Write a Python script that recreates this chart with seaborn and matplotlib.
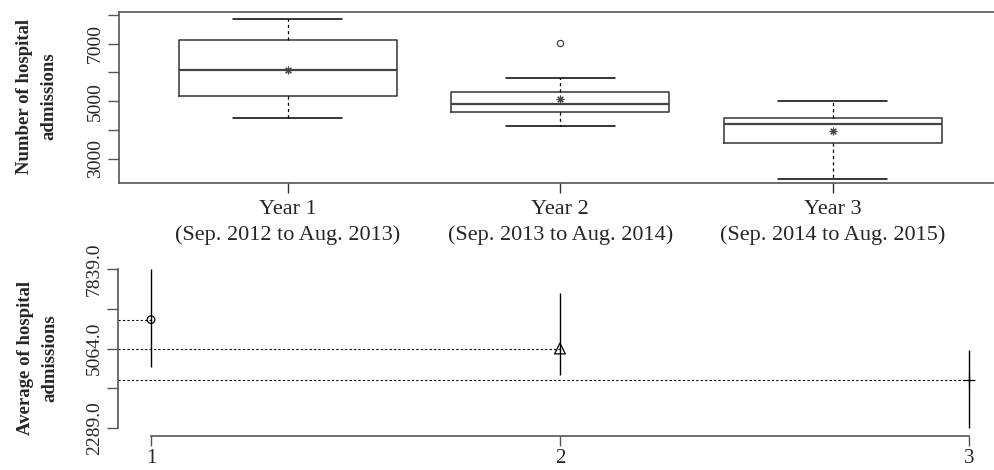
import numpy as np
import pandas as pd
import seaborn as sns
import matplotlib.pyplot as plt

# values
years = ['Year 1\n(Sep. 2012 to Aug. 2013)',
         'Year 2\n(Sep. 2013 to Aug. 2014)',
         'Year 3\n(Sep. 2014 to Aug. 2015)']
q1 = [5177, 4622, 3545]
medians = [6080, 4900, 4205]
q3 = [7122, 5316, 4413]
whisk_lo = [4418, 4146, 2289]
whisk_hi = [7839, 5813, 5014]
outliers = [[], [7020], []]
means = [6075, 5064, 3965]

# lower panel: mean with min-max range
groups = [1, 2, 3]
mins = [4418, 4146, 2289]
maxs = [7839, 7020, 5020]
mean_markers = ['o', '^', '+']

sns.set_style('ticks')
plt.rcParams['font.family'] = ['Liberation Serif', 'DejaVu Serif']

fig = plt.figure(figsize=(9.94, 4.70), dpi=100)
frame_col = '#555555'

#top panel - boxplots
ax1 = fig.add_axes([0.1197, 0.6100, 0.888, 0.3638])
stats = []
for i in range(3):
    stats.append({'med': medians[i], 'q1': q1[i], 'q3': q3[i],
                  'whislo': whisk_lo[i], 'whishi': whisk_hi[i],
                  'mean': means[i], 'fliers': outliers[i]})
ax1.bxp(stats, positions=[1, 2, 3], widths=0.8, showmeans=True,
        boxprops=dict(color='#444444', linewidth=1.2),
        medianprops=dict(color='#444444', linewidth=1.6),
        whiskerprops=dict(color='black', linestyle=(0, (2.5, 2.5)), linewidth=0.9),
        capprops=dict(color='black', linewidth=1.1),
        capwidths=0.4,
        meanprops=dict(marker=(8, 2, 0), markersize=5.5, markeredgecolor='#444444',
                       markeredgewidth=0.8),
        flierprops=dict(marker='o', markersize=4.5, markerfacecolor='none',
                        markeredgecolor='#333333', markeredgewidth=0.8))
ax1.set_xlim(0.38, 3.62)
ax1.set_ylim(2146, 8083)
ax1.set_yticks([3000, 4000, 5000, 6000, 7000, 8000])
ax1.set_yticklabels(['3000', '', '5000', '', '7000', ''], rotation=90, va='center')
ax1.set_xticks([1, 2, 3])
ax1.set_xticklabels(years, fontsize=16, linespacing=1.45)
ax1.tick_params(axis='y', length=8, width=1, color=frame_col, labelsize=14, pad=3)
ax1.tick_params(axis='x', length=7, width=1, color='#333333', pad=5)
for s in ax1.spines.values():
    s.set_color(frame_col)
    s.set_linewidth(1.2)
ax1.spines['right'].set_visible(False)

#bottom panel - means with ranges
ax2 = fig.add_axes([0.1190, 0.0766, 0.8887, 0.3638])
ax2.vlines(groups, mins, maxs, color='black', linewidth=1)
for g, m in zip(groups, means):
    ax2.hlines(m, 0.92, g, color='black', linestyle=(0, (2, 2)), linewidth=0.8)
for g, m, mk in zip(groups, means, mean_markers):
    size = {'o': 30, '^': 60, '+': 80}[mk]
    sns.scatterplot(x=[g], y=[m], marker=mk, s=size,
                    facecolors='none' if mk != '+' else None,
                    edgecolor='black', color='black', linewidth=0.9,
                    ax=ax2, zorder=3, legend=False)
ax2.set_xlim(0.92, 3.08)
ax2.set_ylim(2067, 8061)
yt = [2289, 3676.5, 5064, 6451.5, 7839]
ax2.set_yticks(yt)
ax2.set_yticklabels(['2289.0', '', '5064.0', '', '7839.0'], rotation=90, va='center')
ax2.set_xticks(groups)
ax2.set_xticklabels(['1', '2', '3'])
ax2.tick_params(axis='y', length=8, width=1, color=frame_col, labelsize=14, pad=3)
ax2.tick_params(axis='x', length=7, width=1, color=frame_col, labelsize=15, pad=2)
sns.despine(ax=ax2)
ax2.spines['left'].set_bounds(2289, 7839)
ax2.spines['bottom'].set_bounds(1, 3)
ax2.spines['bottom'].set_position(('outward', 1.5))
for s in ['left', 'bottom']:
    ax2.spines[s].set_color(frame_col)
    ax2.spines[s].set_linewidth(1.2)

fig.text(37 / 994, 1 - 96 / 470, 'Number of hospital\nadmissions', rotation=90,
         ha='center', va='center', fontsize=13.5, fontweight='bold', linespacing=1.55)
fig.text(38 / 994, 1 - 358 / 470, 'Average of hospital\nadmissions', rotation=90,
         ha='center', va='center', fontsize=13.5, fontweight='bold', linespacing=1.55)

fig.savefig('out.png', dpi=100)
